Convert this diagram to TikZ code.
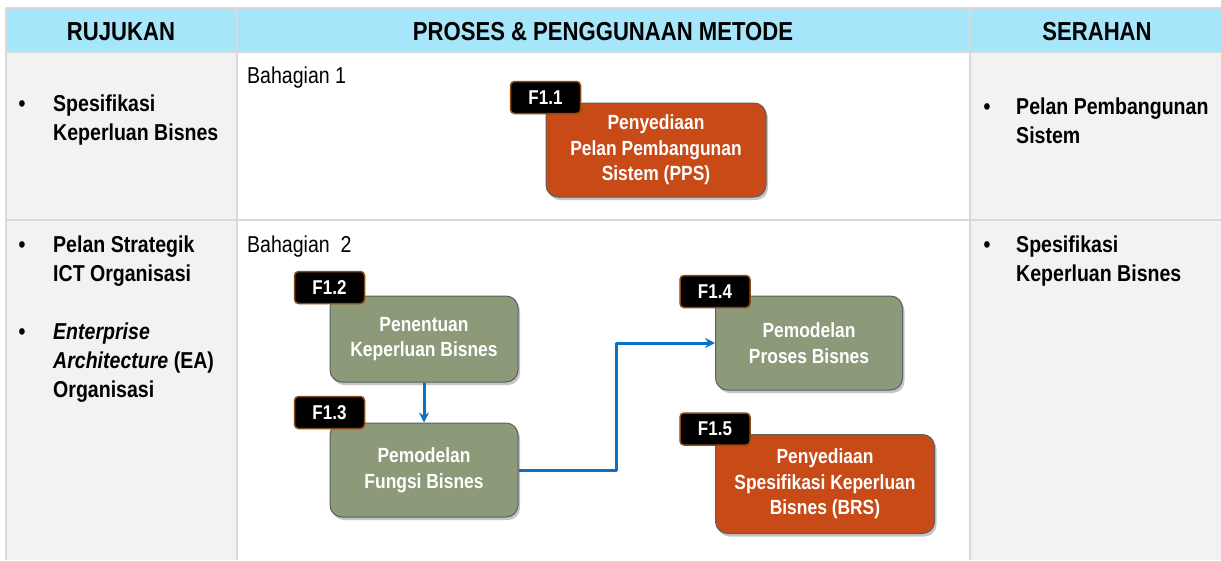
\documentclass[tikz,border=0pt]{standalone}
\usepackage{fontspec}
\setmainfont{Liberation Sans}[FakeStretch=0.85]
\usetikzlibrary{shadows,arrows.meta}
\definecolor{headblue}{HTML}{A6E6FA}
\definecolor{cellgray}{HTML}{F2F2F2}
\definecolor{gridline}{HTML}{D9D9D9}
\definecolor{taskgreen}{HTML}{8C9A7A}
\definecolor{taskorange}{HTML}{C84B17}
\definecolor{boxline}{HTML}{5E5E5E}
\definecolor{tagline}{HTML}{8A4A12}
\definecolor{linkblue}{HTML}{0A72C6}
\begin{document}
\begin{tikzpicture}[x=1pt,y=-1pt,line join=round,>={Stealth[length=10pt,width=10pt]},
		every node/.style={inner sep=0pt},
		head/.style={font=\fontsize{26}{30}\selectfont\bfseries,anchor=base},
		item/.style={font=\fontsize{23}{29}\selectfont\bfseries,align=left,anchor=base west},
		dot/.style={font=\fontsize{23}{29}\selectfont\bfseries,anchor=base},
		part/.style={font=\fontsize{23}{29}\selectfont,anchor=base west},
		task/.style={rounded corners=12pt,draw=boxline,line width=1pt,text=white,align=center,
			font=\fontsize{20.5}{25.5}\selectfont\bfseries,
			drop shadow={shadow xshift=2pt,shadow yshift=-3pt,opacity=0.45}},
		greenbox/.style={task,fill=taskgreen},
		orangebox/.style={task,fill=taskorange},
		tag/.style={rounded corners=4pt,fill=black,draw=tagline,line width=1.5pt,text=white,
			minimum width=70pt,minimum height=32pt,font=\fontsize{20}{24}\selectfont\bfseries},
		link/.style={->,draw=linkblue,line width=3pt}]
	\useasboundingbox (0,0) rectangle (1221,560);
	\def \ca{6};
	\def \cb{237};
	\def \cc{970};
	\def \cd{1221};
	% table
	\fill[white] (0,0) rectangle (1221,560);
	\fill[headblue] (\ca,8) rectangle (\cd,52);
	\fill[cellgray] (\ca,52) rectangle (\cb,560);
	\fill[cellgray] (\cc,52) rectangle (\cd,560);
	\draw[gridline,line width=2pt] (\ca,8) -- (\cd,8) (\ca,52) -- (\cd,52) (\ca,220) -- (\cd,220);
	\draw[gridline,line width=2pt] (\ca,8) -- (\ca,560) (\cb,8) -- (\cb,560) (\cc,8) -- (\cc,560);
	\node[head] (hrujukan) at (121,40) {RUJUKAN};
	\node[head] (hproses) at (603,40) {PROSES \& PENGGUNAAN METODE};
	\node[head] (hserahan) at (1097,40) {SERAHAN};
	% rujukan
	\foreach \y in {111,252,339}
	{
		\node[dot] at (22,\y) {•};
	}
	\node[item] (r1) at (53,140) {Spesifikasi\\Keperluan Bisnes};
	\node[item] (r2) at (53,281) {Pelan Strategik\\ICT Organisasi};
	\node[item] (r3) at (53,397) {\textit{Enterprise}\\\textit{Architecture} (EA)\\Organisasi};
	% serahan
	\foreach \y in {114,252}
	{
		\node[dot] at (987,\y) {•};
	}
	\node[item] (s1) at (1016,143) {Pelan Pembangunan\\Sistem};
	\node[item] (s2) at (1016,281) {Spesifikasi\\Keperluan Bisnes};
	% proses
	\node[part] (p1) at (247,83) {Bahagian 1};
	\node[part] (p2) at (247,252) {Bahagian\ \ 2};
	\node[orangebox,minimum width=220pt,minimum height=94pt] (b11) at (656,150) {Penyediaan\\Pelan Pembangunan\\Sistem (PPS)};
	\node[greenbox,minimum width=188pt,minimum height=86pt] (b12) at (424,339) {Penentuan\\Keperluan Bisnes};
	\node[greenbox,minimum width=188pt,minimum height=94pt] (b13) at (424,470) {Pemodelan\\Fungsi Bisnes};
	\node[greenbox,minimum width=187pt,minimum height=94pt] (b14) at (809,343) {Pemodelan\\Proses Bisnes};
	\node[orangebox,minimum width=219pt,minimum height=99pt] (b15) at (825,484) {Penyediaan\\Spesifikasi Keperluan\\Bisnes (BRS)};
	\node[tag] (f11) at ([yshift=5pt]b11.north west) {F1.1};
	\node[tag] (f12) at ([yshift=8pt]b12.north west) {F1.2};
	\node[tag] (f13) at ([yshift=10pt]b13.north west) {F1.3};
	\node[tag] (f14) at ([yshift=4pt]b14.north west) {F1.4};
	\node[tag] (f15) at ([yshift=5pt]b15.north west) {F1.5};
	\draw[link] (b12) -- (b13);
	\draw[link] (b13.east) -- ++(98,0) |- (b14.west);
\end{tikzpicture}
\end{document}
